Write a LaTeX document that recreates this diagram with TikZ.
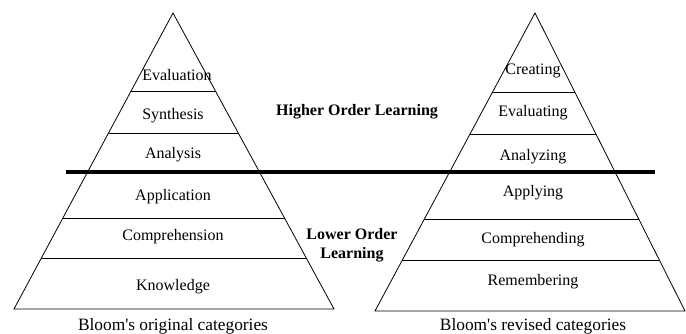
\documentclass[tikz,border=0pt]{standalone}
\usepackage{fontspec}
\setmainfont{Liberation Serif}
\usetikzlibrary{positioning, calc}

\begin{document}
\begin{tikzpicture}[
    x=0.75pt, y=-0.75pt,
    edge/.style={draw, line width=0.6pt},
    divider/.style={draw, line width=2.4pt},
    level/.style={font=\fontsize{12}{14}\selectfont},
    caption/.style={font=\fontsize{13}{15}\selectfont},
    order/.style={font=\bfseries\fontsize{12}{14}\selectfont, align=center}
]
\useasboundingbox (0,0) rectangle (686,334);

% Pyramids
\coordinate (orig_top) at (173,13);
\coordinate (orig_left) at (14,309);
\coordinate (orig_right) at (334,309);
\coordinate (rev_top) at (535,13);
\coordinate (rev_left) at (375,311);
\coordinate (rev_right) at (685,311);

\draw[edge] (orig_top) -- (orig_left) -- (orig_right) -- cycle;
\draw[edge] (rev_top) -- (rev_left) -- (rev_right) -- cycle;

% Original layers
\draw[edge] ($(orig_top)!0.2635!(orig_left)$) -- ($(orig_top)!0.2635!(orig_right)$);
\draw[edge] ($(orig_top)!0.4054!(orig_left)$) -- ($(orig_top)!0.4054!(orig_right)$);
\draw[edge] ($(orig_top)!0.6926!(orig_left)$) -- ($(orig_top)!0.6926!(orig_right)$);
\draw[edge] ($(orig_top)!0.8277!(orig_left)$) -- ($(orig_top)!0.8277!(orig_right)$);

% Revised layers
\draw[edge] ($(rev_top)!0.268!(rev_left)$) -- ($(rev_top)!0.268!(rev_right)$);
\draw[edge] ($(rev_top)!0.406!(rev_left)$) -- ($(rev_top)!0.406!(rev_right)$);
\draw[edge] ($(rev_top)!0.691!(rev_left)$) -- ($(rev_top)!0.691!(rev_right)$);
\draw[edge] ($(rev_top)!0.829!(rev_left)$) -- ($(rev_top)!0.829!(rev_right)$);

% Divider between higher and lower order
\coordinate (div_left) at (66,172);
\coordinate (div_right) at (655,172);
\draw[divider] (div_left) -- (div_right);

% Original categories
\node[level] (orig_eval) at (177,75) {Evaluation};
\node[level] (orig_syn) at (173,116) {Synthesis};
\node[level] (orig_ana) at (173,155) {Analysis};
\node[level] (orig_app) at (173,197) {Application};
\node[level] (orig_comp) at (173,237) {Comprehension};
\node[level] (orig_know) at (173,287) {Knowledge};

% Revised categories
\node[level] (rev_create) at (533,71) {Creating};
\node[level] (rev_eval) at (533,113) {Evaluating};
\node[level] (rev_ana) at (533,157) {Analyzing};
\node[level] (rev_app) at (533,193) {Applying};
\node[level] (rev_comp) at (533,240) {Comprehending};
\node[level] (rev_rem) at (533,282) {Remembering};

% Learning orders
\node[order] (higher) at (357,112) {Higher Order Learning};
\node[order] (lower) at (352,245) {Lower Order\\Learning};

% Captions
\node[caption] (orig_cap) at (173,326) {Bloom\textquotesingle s original categories};
\node[caption] (rev_cap) at (533,326) {Bloom\textquotesingle s revised categories};

\end{tikzpicture}
\end{document}
